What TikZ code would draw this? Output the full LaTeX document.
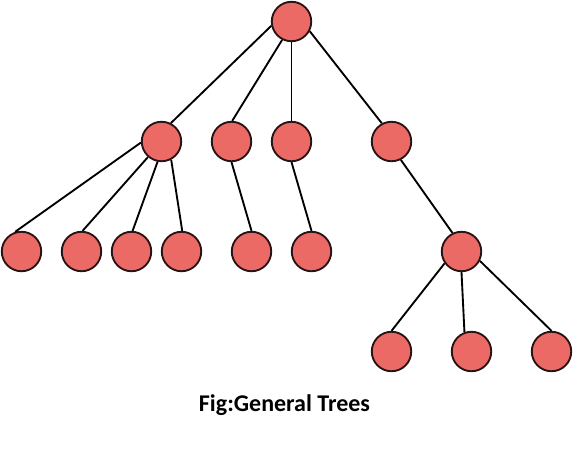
\documentclass[tikz,border=0pt]{standalone}
\usepackage{fontspec}
\setmainfont{Carlito}
\definecolor{nodefill}{RGB}{235,106,102}
\definecolor{nodeline}{RGB}{40,20,20}
\begin{document}
\begin{tikzpicture}[x=0.75pt,y=-0.75pt,
  tnode/.style={circle,draw=nodeline,fill=nodefill,line width=1.4pt,minimum size=29.6pt,inner sep=0pt},
  edge/.style={draw=black,line width=1.4pt}]
\useasboundingbox (0,0) rectangle (573,458);
% level 0
\node[tnode] (R) at (291.5,21.5) {};
% level 1
\node[tnode] (A) at (161.5,141.5) {};
\node[tnode] (B) at (231.5,141.5) {};
\node[tnode] (C) at (291.5,141.5) {};
\node[tnode] (D) at (391.5,141.5) {};
% level 2
\node[tnode] (L1) at (21.5,251.5) {};
\node[tnode] (L2) at (81.5,251.5) {};
\node[tnode] (L3) at (131.5,251.5) {};
\node[tnode] (L4) at (181.5,251.5) {};
\node[tnode] (L5) at (251.5,251.5) {};
\node[tnode] (L6) at (311.5,251.5) {};
\node[tnode] (E) at (461.5,251.5) {};
% level 3
\node[tnode] (M1) at (391.5,351.5) {};
\node[tnode] (M2) at (471.5,351.5) {};
\node[tnode] (M3) at (551.5,351.5) {};
% edges
\draw[edge] (R.192) -- (A.63);
\draw[edge] (R.243) -- (B.88);
\draw[edge] (R.270) -- (C.90);
\draw[edge] (R.332) -- (D.118);
\draw[edge] (A.183) -- (L1.108);
\draw[edge] (A.229) -- (L2.87);
\draw[edge] (A.259) -- (L3.87);
\draw[edge] (A.298) -- (L4.88);
\draw[edge] (B.270) -- (L5.90);
\draw[edge] (C.270) -- (L6.90);
\draw[edge] (D.297) -- (E.116);
\draw[edge] (E.215) -- (M1.90);
\draw[edge] (E.270) -- (M2.110);
\draw[edge] (E.333) -- (M3.90);
% caption
\node[anchor=base,inner sep=0pt,font=\fontsize{18}{21}\selectfont\bfseries] (cap) at (284.5,411) {Fig:General Trees};
\end{tikzpicture}
\end{document}
